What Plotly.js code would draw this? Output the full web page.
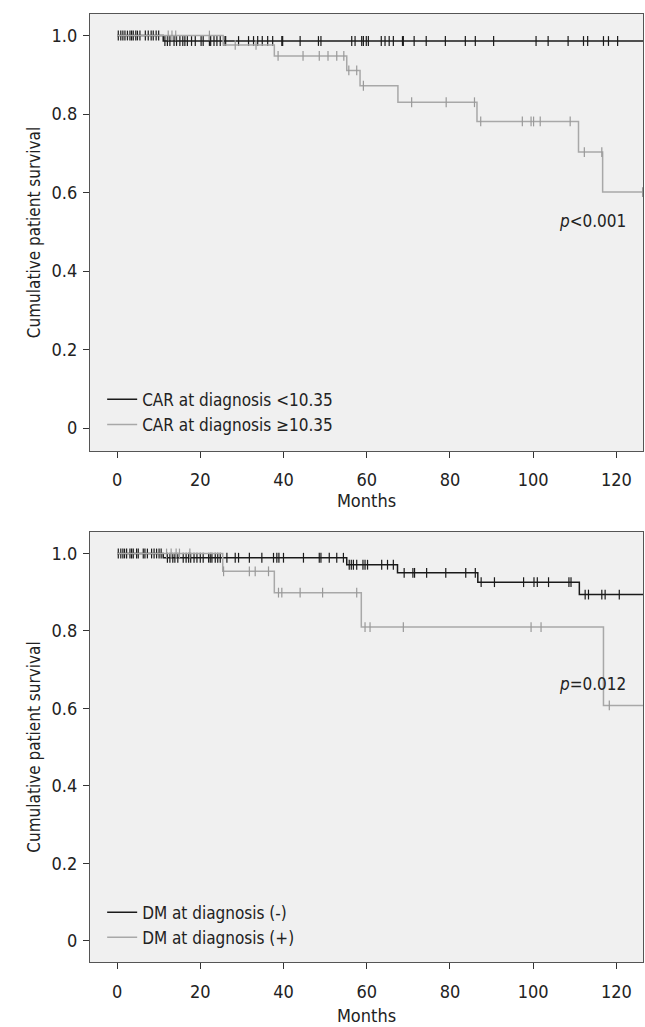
<!DOCTYPE html>
<html><head><meta charset="utf-8">
<script src="https://cdn.plot.ly/plotly-3.0.1.min.js"></script>
<style>html,body{margin:0;padding:0;background:#fff;}</style>
</head><body>
<div id="chart" style="width:645px;height:1027px;"></div>
<script>
// ---- data ----
const xTickVals = [0, 20, 40, 60, 80, 100, 120];
const yTickVals = [0, 0.2, 0.4, 0.6, 0.8, 1.0];
const yTickText = ['0', '0.2', '0.4', '0.6', '0.8', '1.0'];

// Panel A: CAR at diagnosis
const carLowName = 'CAR at diagnosis <10.35';
const carLowEventTimes = [0, 11.1];
const carLowSurv = [1, 0.986];
const carLowLastTime = 128;
const carLowCensor = [0.3,0.9,1.4,1.9,2.5,3.1,3.5,3.9,4.5,4.9,5.5,6.8,7.5,8.2,8.7,9.4,10.0,
  11.5,12.1,12.7,13.7,14.3,15.1,15.8,16.3,16.9,17.9,18.8,20.2,20.7,22.2,22.5,23.3,24.0,24.8,25.7,26.1,
  29.2,31.6,32.8,33.8,34.9,36.2,37.4,39.6,39.8,44.0,48.4,49.0,56.4,57.2,58.8,59.2,59.9,60.4,63.5,64.4,
  65.4,66.4,68.6,68.8,71.4,74.3,78.9,83.7,86.1,90.5,100.7,103.6,108.4,112.1,113.1,116.9,118.1,120.3];

const carHighName = 'CAR at diagnosis \u226510.35';
const carHighEventTimes = [0, 25.5, 37.8, 55.2, 58.4, 67.5, 86.5, 110.9, 116.7];
const carHighSurv = [1, 0.976, 0.948, 0.911, 0.872, 0.830, 0.781, 0.703, 0.601];
const carHighLastTime = 128;
const carHighCensor = [12.3, 13.2, 14.1, 22.2, 28.4, 33.4, 38.7, 44.7, 48.6, 50.7, 52.8, 54.5, 55.7, 57.6,
  59.2, 70.8, 79.1, 85.9, 87.4, 97.4, 99.5, 100.1, 101.7, 108.9, 112.3, 116.5, 126.3];

// Panel B: DM at diagnosis
const dmNegName = 'DM at diagnosis (-)';
const dmNegEventTimes = [0, 11.1, 55.2, 67.4, 86.7, 111.1];
const dmNegSurv = [1, 0.989, 0.971, 0.950, 0.926, 0.894];
const dmNegLastTime = 128;
const dmNegCensor = [0.3,0.9,1.4,1.8,2.3,3.1,3.5,3.9,4.7,5.1,6.3,6.7,7.3,8.3,8.9,9.5,10.1,10.6,
  12.1,12.7,13.4,13.9,14.6,15.9,16.6,17.2,17.7,18.5,19.2,20.0,20.7,22.0,22.4,22.8,23.6,24.2,24.8,26.4,
  28.4,29.2,31.8,34.8,37.6,38.4,38.9,40.0,44.8,48.6,49.0,51.0,52.8,54.4,55.8,56.3,56.8,57.6,59.1,59.6,
  60.2,63.6,65.0,66.4,69.0,71.1,71.5,74.4,79.0,83.8,86.1,87.5,90.7,97.7,100.2,101.0,103.7,108.6,109.1,
  112.5,113.3,116.5,117.3,120.7];

const dmPosName = 'DM at diagnosis (+)';
const dmPosEventTimes = [0, 25.4, 37.8, 58.7, 116.9];
const dmPosSurv = [1, 0.954, 0.899, 0.810, 0.608];
const dmPosLastTime = 128;
const dmPosCensor = [11.9, 13.0, 14.2, 15.0, 17.5, 25.6, 31.8, 33.2, 36.4, 38.8, 39.6, 44.0, 49.4, 57.6,
  59.6, 60.8, 68.8, 99.5, 101.9, 118.3];

const pTextA = '<i>p</i>&lt;0.001';
const pTextB = '<i>p</i>=0.012';

// ---- helpers ----
function kmLine(times, surv, last) {
  return { x: times.concat([last]), y: surv.concat([surv[surv.length - 1]]) };
}
function survAt(times, surv, t) {
  let s = surv[0];
  for (let i = 0; i < times.length; i++) { if (times[i] <= t) s = surv[i]; }
  return s;
}

const FONT = "'Liberation Sans Narrow', 'DejaVu Sans Condensed', Roboto, sans-serif";
const BLACK = '#1a1a1a';
const GRAY = '#a8a8a8';
const GRAYMARK = '#999999';

function group(name, times, surv, last, censor, color, markColor, xa, ya, legend) {
  const l = kmLine(times, surv, last);
  return [
    { type: 'scatter', mode: 'lines', name: name, x: l.x, y: l.y, xaxis: xa, yaxis: ya, legend: legend,
      line: { shape: 'hv', color: color, width: 1.5 }, hoverinfo: 'skip' },
    { type: 'scatter', mode: 'markers', name: name + ' censored', showlegend: false, xaxis: xa, yaxis: ya,
      x: censor, y: censor.map(t => survAt(times, surv, t)),
      marker: { symbol: 'line-ns-open', size: 7, line: { width: 1.2, color: markColor }, color: markColor },
      hoverinfo: 'skip' }
  ];
}

const traces = [].concat(
  group(carLowName, carLowEventTimes, carLowSurv, carLowLastTime, carLowCensor, BLACK, BLACK, 'x', 'y', 'legend'),
  group(carHighName, carHighEventTimes, carHighSurv, carHighLastTime, carHighCensor, GRAY, GRAYMARK, 'x', 'y', 'legend'),
  group(dmNegName, dmNegEventTimes, dmNegSurv, dmNegLastTime, dmNegCensor, BLACK, BLACK, 'x2', 'y2', 'legend2'),
  group(dmPosName, dmPosEventTimes, dmPosSurv, dmPosLastTime, dmPosCensor, GRAY, GRAYMARK, 'x2', 'y2', 'legend2')
);

function xAxis(anchor, labelStandoff, titleStandoff) {
  return {
    anchor: anchor, domain: [0, 1], range: [-6.5, 126.4],
    tickvals: xTickVals, ticks: 'outside', ticklen: 6, tickwidth: 1, tickcolor: '#333',
    ticklabelstandoff: labelStandoff,
    showline: true, mirror: true, linecolor: '#555', linewidth: 1.2,
    showgrid: false, zeroline: false,
    tickfont: { family: FONT, size: 18, color: '#222' },
    title: { text: 'Months', font: { family: FONT, size: 18, color: '#222' }, standoff: titleStandoff }
  };
}
function yAxis(anchor, domain, range) {
  return {
    anchor: anchor, domain: domain, range: range,
    tickvals: yTickVals, ticktext: yTickText, ticks: 'outside', ticklen: 6, tickwidth: 1, tickcolor: '#333',
    ticklabelstandoff: 2,
    showline: true, mirror: true, linecolor: '#555', linewidth: 1.2,
    showgrid: false, zeroline: false,
    tickfont: { family: FONT, size: 18, color: '#222' },
    title: { text: 'Cumulative patient survival', font: { family: FONT, size: 17, color: '#222' }, standoff: 6 }
  };
}

const legendStyle = (y) => ({
  x: 0.022, y: y, xanchor: 'left', yanchor: 'top', bgcolor: 'rgba(0,0,0,0)', borderwidth: 0,
  font: { family: FONT, size: 17, color: '#222' }, tracegroupgap: 0
});

const layout = {
  width: 645, height: 1027,
  margin: { l: 90, r: 2, t: 14, b: 65 },
  paper_bgcolor: '#ffffff', plot_bgcolor: '#f0f0f0',
  showlegend: true,
  xaxis: xAxis('y', 6, 2),
  yaxis: yAxis('x', [0.539, 1], [-0.0586, 1.0548]),
  xaxis2: xAxis('y2', 7, 8),
  yaxis2: yAxis('x2', [0, 0.4536], [-0.0542, 1.0555]),
  legend: legendStyle(0.612),
  legend2: legendStyle(0.071),
  annotations: [
    { text: pTextA, xref: 'x', yref: 'y', x: 105.8, y: 0.527, xanchor: 'left', yanchor: 'middle', showarrow: false,
      font: { family: FONT, size: 17, color: '#222' } },
    { text: pTextB, xref: 'x2', yref: 'y2', x: 105.8, y: 0.663, xanchor: 'left', yanchor: 'middle', showarrow: false,
      font: { family: FONT, size: 17, color: '#222' } }
  ]
};

Plotly.newPlot('chart', traces, layout, { displayModeBar: false, staticPlot: true });
</script>
</body></html>
